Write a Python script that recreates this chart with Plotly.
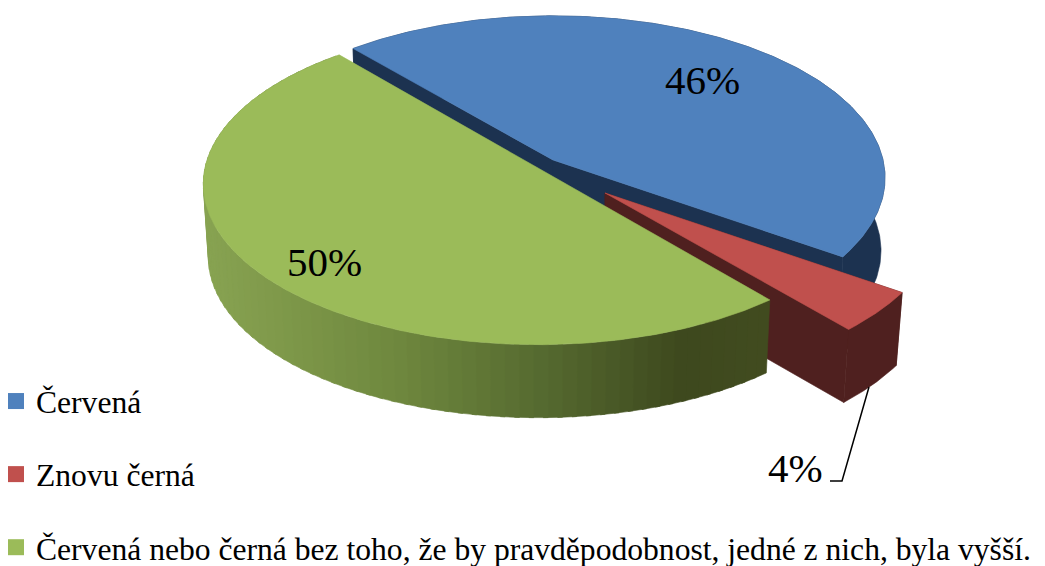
import numpy as np
import plotly.graph_objects as go

# --- data ---
categories = ["Červená", "Znovu černá", "Červená nebo černá bez toho, že by pravděpodobnost, jedné z nich, byla vyšší."]
values = [46, 4, 50]

# --- style / geometry ---
top_colors = ["#4f81bd", "#c0504d", "#9bbb59"]
dark_colors = ["#1c3250", "#4f201f", None]
START = 318.0
geom = [
    dict(cx=553, cy=160, A=330, B=160, p=0.11, rot=1, K=0.012),
    dict(cx=605, cy=193, A=337, B=170, p=0.10, rot=0, K=0.02),
    dict(cx=538, cy=168, A=333, B=159, p=0.10, rot=2, K=0.015),
]
H = 73
label_pos = [(702, 80), (324, 262), (795, 468)]
label_idx = [0, 2, 1]
grad_x = [205, 300, 400, 550, 680, 768]
grad_rgb = np.array([[136, 163, 82], [124, 150, 72], [110, 135, 62], [84, 104, 47], [62, 73, 30], [66, 76, 32]])
FONT = "Liberation Serif"
PAGE = 8  # the page's own body margin


def proj(th_deg, r, g, z=0.0):
    th = np.radians(th_deg)
    X, Y = r * np.sin(th), r * np.cos(th)
    w = 1 + g["p"] * Y
    s = 1 - g["K"] * z
    return g["cx"] + g["A"] * X / w * s, g["cy"] - g["B"] * Y / w + H * z


def poly(fig, xs, ys, color):
    xs, ys = list(xs), list(ys)
    fig.add_trace(go.Scatter(x=xs + xs[:1], y=ys + ys[:1], mode="lines", fill="toself", fillcolor=color,
                             line=dict(color=color, width=0.6), hoverinfo="skip", showlegend=False))


fig = go.Figure()
edges = np.concatenate([[0], np.cumsum(values)]) / sum(values) * 360 + START

for i, g in enumerate(geom):
    a0, a1 = edges[i] + g["rot"], edges[i + 1] + g["rot"]
    th = np.linspace(a0, a1, 240)
    xt, yt = proj(th, 1, g, 0)
    xb, yb = proj(th, 1, g, 1)
    cx0, cy0 = proj(0.0, 0, g, 0)
    cx1, cy1 = proj(0.0, 0, g, 1)
    if dark_colors[i]:
        poly(fig, [cx0, xt[0], xb[0], cx1], [cy0, yt[0], yb[0], cy1], dark_colors[i])
        poly(fig, [cx0, xt[-1], xb[-1], cx1], [cy0, yt[-1], yb[-1], cy1], dark_colors[i])
        poly(fig, np.r_[xt, xb[::-1]], np.r_[yt, yb[::-1]], dark_colors[i])
    else:
        # gradient wall: each band overlaps its neighbour so no seams show
        step = 3
        for j in range(0, len(th) - step, step):
            e = min(j + step + 1, len(th) - 1)
            xm = (xt[j] + xt[e]) / 2
            c = [np.interp(xm, grad_x, grad_rgb[:, k]) for k in range(3)]
            col = "rgb(%d,%d,%d)" % tuple(c)
            poly(fig, [xt[j], xt[e], xb[e], xb[j]], [yt[j], yt[e], yb[e], yb[j]], col)
    poly(fig, np.r_[cx0, xt], np.r_[cy0, yt], top_colors[i])

# leader line for the small slice label
fig.add_trace(go.Scatter(x=[830, 842, 869], y=[481, 481, 387], mode="lines",
                         line=dict(color="black", width=1.5), hoverinfo="skip", showlegend=False))

# legend entries
for i, name in enumerate(categories):
    fig.add_trace(go.Scatter(x=[None], y=[None], mode="markers", name=name, legendgroup=str(i),
                             marker=dict(symbol="square", size=16, color=top_colors[i])))

for (x, y), idx in zip(label_pos, label_idx):
    fig.add_annotation(x=x, y=y, text=f"{values[idx]}%", showarrow=False,
                       font=dict(family=FONT, size=41, color="black"))

W, Ht = 1070, 566 - PAGE
plot_w = 1045 - PAGE
fig.update_layout(
    width=W, height=Ht, margin=dict(l=0, r=0, t=0, b=0, autoexpand=False),
    paper_bgcolor="white", plot_bgcolor="white",
    xaxis=dict(range=[PAGE, 1045], domain=[0, plot_w / W], visible=False, fixedrange=True),
    yaxis=dict(range=[566, PAGE], visible=False, fixedrange=True),
    legend=dict(x=-12 / W, y=-9 / Ht, xanchor="left", yanchor="bottom", tracegroupgap=29,
                itemwidth=30, bgcolor="rgba(0,0,0,0)", borderwidth=0,
                font=dict(family=FONT, size=31.6, color="black")),
    showlegend=True,
)
fig.write_html("out.html", post_script="document.documentElement.style.overflow='hidden';")
